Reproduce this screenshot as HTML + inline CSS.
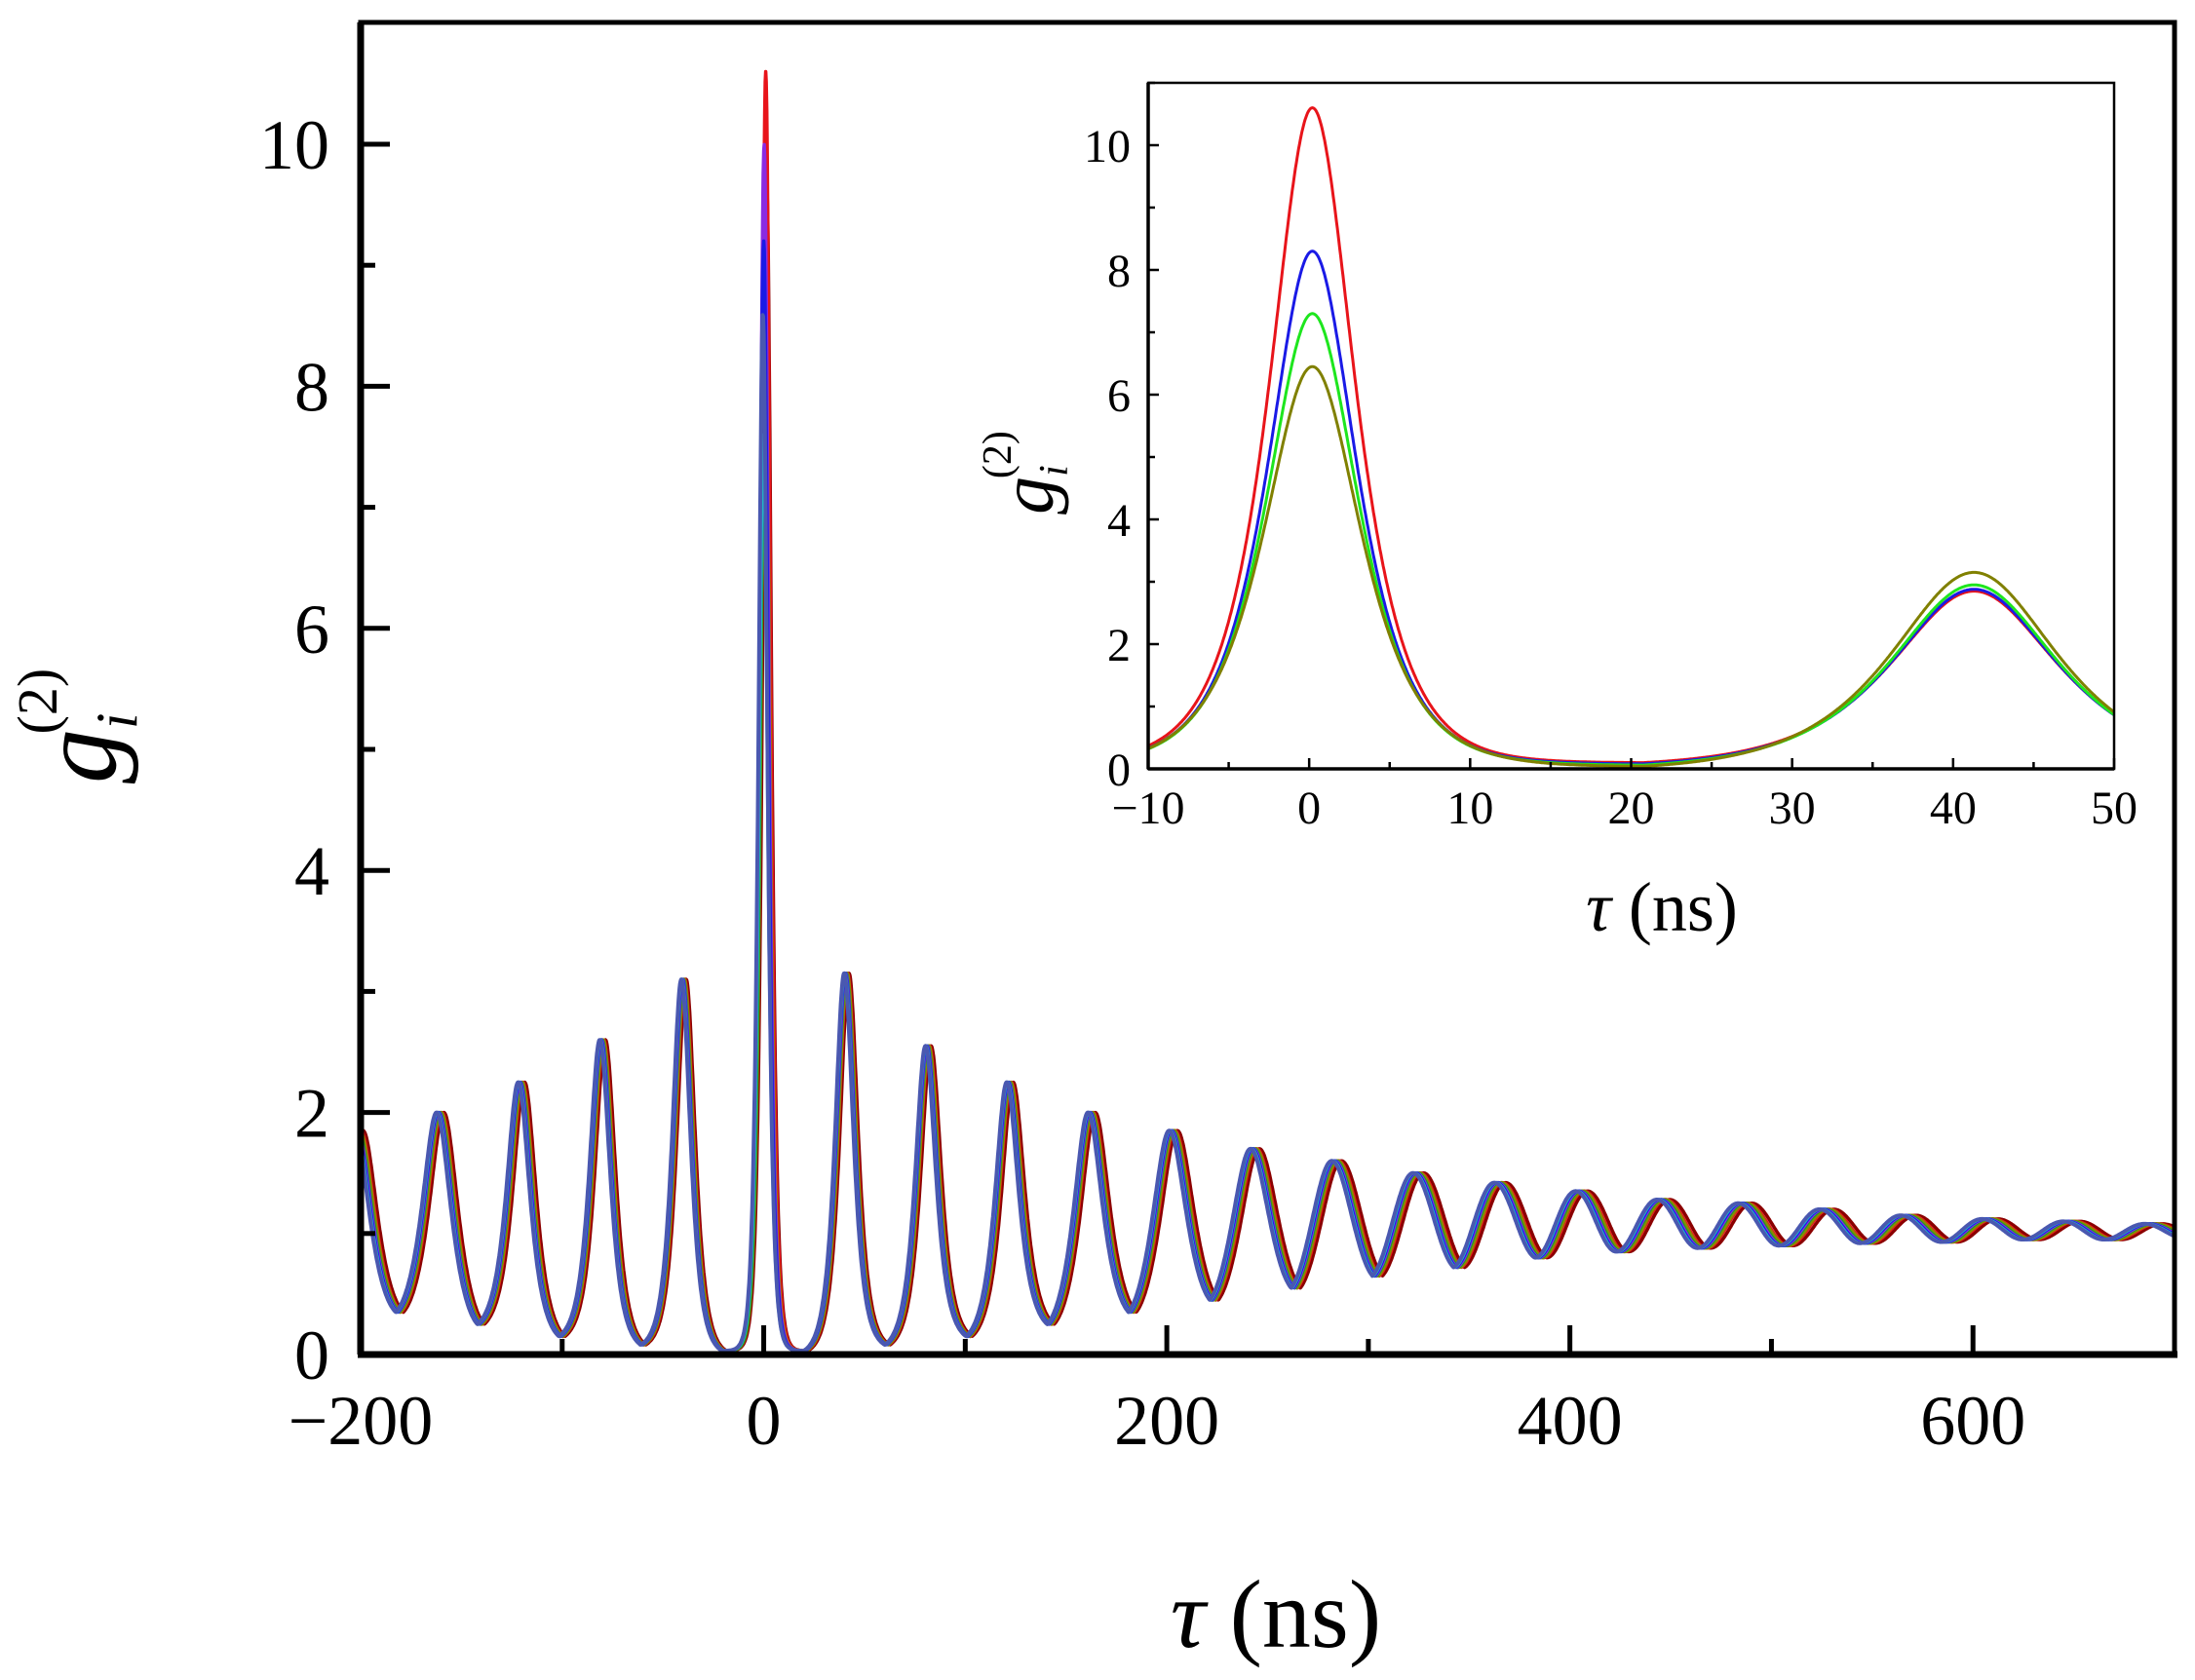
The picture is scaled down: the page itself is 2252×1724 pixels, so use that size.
<!DOCTYPE html>
<html><head><meta charset="utf-8"><style>
html,body{margin:0;padding:0;background:#fff;}
svg{display:block;font-family:"Liberation Serif",serif;}
</style></head><body>
<svg id="chart" width="2252" height="1724" viewBox="0 0 2252 1724" xmlns="http://www.w3.org/2000/svg">
<rect x="0" y="0" width="2252" height="1724" fill="#fff"/>
<g id="mainSeries"></g>
<g id="mainAxes"></g>
<rect x="1178" y="85" width="991" height="704" fill="#fff" stroke="none"/>
<g id="insetSeries"></g>
<g id="insetAxes"></g>
<text x="1309" y="1690" text-anchor="middle" font-size="100"><tspan font-style="italic">τ</tspan> (ns)</text>
<text transform="translate(118,745) rotate(-90)" text-anchor="middle" font-size="112"><tspan font-style="italic">g</tspan><tspan font-style="italic" font-size="60" dy="22">i</tspan><tspan font-size="58" dx="-22" dy="-82">(2)</tspan></text>
<text x="1705" y="955" text-anchor="middle" font-size="72"><tspan font-style="italic">τ</tspan> (ns)</text>
<text transform="translate(1080,485) rotate(-90)" text-anchor="middle" font-size="78"><tspan font-style="italic">g</tspan><tspan font-style="italic" font-size="42" dy="15">i</tspan><tspan font-size="42" dx="-14" dy="-58">(2)</tspan></text>
</svg>
<script>
// ---------- main plot data ----------
const mainPeakTimes = [-202,-161.6,-121.2,-80.8,-40.4,0,40.4,80.8,121.2,161.6,202,242.4,282.8,323.2,363.6,404,444.4,484.8,525.2,565.6,606,646.4,686.8,727.2];
const mainPeakHeights = [1.85,2.0,2.25,2.6,3.1,10.6,3.15,2.55,2.25,2.0,1.85,1.7,1.6,1.5,1.42,1.35,1.28,1.25,1.2,1.15,1.12,1.1,1.08,1.06];
const mainTroughs = [0.35,0.25,0.15,0.08,0.03,0.03,0.08,0.15,0.25,0.35,0.45,0.55,0.65,0.72,0.8,0.85,0.88,0.9,0.92,0.93,0.95,0.95,0.96];
const mainPeakWidths = [6,6,5,4.5,4,2,4,4.5,5,6,7,8,10,12,15,20,30,40,50,60,60,60,60,60];
const mainSeriesNames = ["darkred","red","olive","green","purple","blue","cyan","slate"];
const mainSeriesColors = ["#8b0000","#e8141a","#8a8a00","#10a030","#8a2be2","#1a1ae6","#20b8c8","#4a58b0"];
const mainCenterHeights = [9.6,10.6,8.8,8.3,10.0,9.2,7.6,8.6];
const mainSeriesShifts = [1.6,1.0,0.8,0.4,0.2,0.0,-0.2,-0.4];
const mainXTicks = [-200,0,200,400,600];
const mainYTicks = [0,2,4,6,8,10];

// ---------- inset data ----------
const insetPeakTimes = [-40.4,0.2,41.3,82];
const insetSeriesNames = ["red","blue","green","olive"];
const insetSeriesColors = ["#e8141a","#1a1ae6","#1ee61e","#808000"];
const insetCenterHeights = [10.6,8.3,7.3,6.45];
const insetSecondHeights = [2.85,2.88,2.95,3.15];
const insetTroughs = [0.1,0.08,0.06,0.04];
const insetCenterWidths = [2.35,2.45,2.55,2.7];
const insetSecondWidth = 4.6;
const insetXTicks = [-10,0,10,20,30,40,50];
const insetYTicks = [0,2,4,6,8,10];

const NS = "http://www.w3.org/2000/svg";
function mk(tag, attrs, parent){ const e=document.createElementNS(NS,tag); for(const k in attrs) e.setAttribute(k,attrs[k]); parent.appendChild(e); return e; }
function sech(x){ return 2/(Math.exp(x)+Math.exp(-x)); }
function profile(t, times, heights, troughs, widths){
  let i=0;
  while(i<times.length-2 && times[i+1]<t) i++;
  const c0=times[i], c1=times[i+1];
  const mid=(c0+c1)/2, m=troughs[Math.min(i,troughs.length-1)];
  let c,h,w;
  if(t<=mid){c=c0;h=heights[i];w=widths[i];} else {c=c1;h=heights[i+1];w=widths[i+1];}
  const D=Math.max((c1-c0)/2,1e-6), d=Math.min(Math.abs(t-c),D);
  const sD=sech(D/w);
  const sS=(sech(d/w)-sD)/(1-sD);
  const sC=(1+Math.cos(Math.PI*d/D))/2;
  const a=Math.min(1,Math.max(0,(w-4.5)/14));
  const s=(1-a)*sS+a*sC;
  return m+(h-m)*s;
}

const mX0=370, mX1=2231, mY0=1390, mYTop=23;
const mxs = v => mX0 + (v+200)/900*(mX1-mX0);
const mys = v => mY0 - v*124.2;
const iX0=1178, iX1=2169, iY0=789, iYTop=85;
const ixs = v => iX0 + (v+10)/60*(iX1-iX0);
const iys = v => iY0 - v*64;

const gMS=document.getElementById('mainSeries');
mainSeriesNames.forEach((nm,si)=>{
  const heights=mainPeakHeights.slice(); heights[5]=mainCenterHeights[si];
  const times=mainPeakTimes.map(t=>t+mainSeriesShifts[si]*(1+Math.abs(t)/200));
  let d="";
  for(let t=-200;t<=700;t+=0.25){
    const v=profile(t,times,heights,mainTroughs,mainPeakWidths);
    d+=(d?"L":"M")+mxs(t).toFixed(1)+","+mys(v).toFixed(1);
  }
  const p=mk('path',{d:d,fill:'none',stroke:mainSeriesColors[si],'stroke-width':si===7?4:3.5,'stroke-linejoin':'round'},gMS);
  
  
});

const gMA=document.getElementById('mainAxes');
const frame=mk('rect',{x:mX0,y:mYTop,width:mX1-mX0,height:mY0-mYTop,fill:'none',stroke:'#000','stroke-width':5},gMA);


mk('line',{x1:mX0-3,y1:mY0,x2:mX1+3,y2:mY0,stroke:'#000','stroke-width':7},gMA);
mk('line',{x1:mX0,y1:mYTop,x2:mX0,y2:mY0,stroke:'#000','stroke-width':7},gMA);
for(let v=-200;v<=700;v+=100){
  const major=mainXTicks.includes(v);
  const tk=mk('line',{x1:mxs(v),y1:mY0,x2:mxs(v),y2:mY0-(major?30:16),stroke:'#000','stroke-width':5},gMA);
  
  
}
mainXTicks.forEach(v=>{
  const t=mk('text',{x:mxs(v),y:1482,'text-anchor':'middle','font-size':72},gMA);
  t.textContent=(v<0?"\u2212":"")+Math.abs(v);
  
  
});
for(let v=0;v<=10;v+=1){
  const major=v%2===0;
  const tk=mk('line',{x1:mX0,y1:mys(v),x2:mX0+(major?30:15),y2:mys(v),stroke:'#000','stroke-width':5},gMA);
  
  
}
mainYTicks.forEach(v=>{
  const t=mk('text',{x:338,y:mys(v)+25,'text-anchor':'end','font-size':72},gMA);
  t.textContent=String(v);
  
  
});

const gIS=document.getElementById('insetSeries');
insetSeriesNames.forEach((nm,si)=>{
  const heights=[insetSecondHeights[si],insetCenterHeights[si],insetSecondHeights[si],insetSecondHeights[si]];
  const troughs=[insetTroughs[si],insetTroughs[si],insetTroughs[si]];
  const widths=[insetSecondWidth,insetCenterWidths[si],insetSecondWidth,insetSecondWidth];
  let d="";
  for(let t=-10;t<=50;t+=0.05){
    const v=profile(t,insetPeakTimes,heights,troughs,widths);
    d+=(d?"L":"M")+ixs(t).toFixed(1)+","+iys(v).toFixed(1);
  }
  const p=mk('path',{d:d,fill:'none',stroke:insetSeriesColors[si],'stroke-width':3,'stroke-linejoin':'round'},gIS);
  
  
});

const gIA=document.getElementById('insetAxes');
const ifr=mk('rect',{x:iX0,y:iYTop,width:iX1-iX0,height:iY0-iYTop,fill:'none',stroke:'#000','stroke-width':2.5},gIA);


mk('line',{x1:iX0,y1:iY0,x2:iX1,y2:iY0,stroke:'#000','stroke-width':3.5},gIA);
mk('line',{x1:iX0,y1:iYTop,x2:iX0,y2:iY0,stroke:'#000','stroke-width':3.5},gIA);
for(let v=-10;v<=50;v+=5){
  const major=insetXTicks.includes(v);
  const tk=mk('line',{x1:ixs(v),y1:iY0,x2:ixs(v),y2:iY0-(major?11:7),stroke:'#000','stroke-width':2.5},gIA);
  
  
}
insetXTicks.forEach(v=>{
  const t=mk('text',{x:ixs(v),y:845,'text-anchor':'middle','font-size':48},gIA);
  t.textContent=(v<0?"\u2212":"")+Math.abs(v);
  
  
});
for(let v=0;v<=11;v+=1){
  const major=v%2===0;
  const tk=mk('line',{x1:iX0,y1:iys(v),x2:iX0+(major?11:7),y2:iys(v),stroke:'#000','stroke-width':2.5},gIA);
  
  
}
insetYTicks.forEach(v=>{
  const t=mk('text',{x:1160,y:iys(v)+17,'text-anchor':'end','font-size':48},gIA);
  t.textContent=String(v);
  
  
});
</script>
</body></html>
